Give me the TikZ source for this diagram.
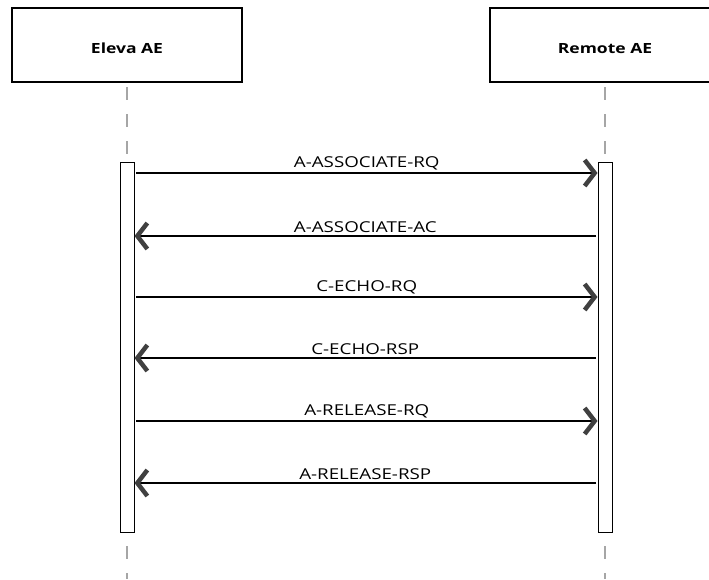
\documentclass[tikz,border=0pt]{standalone}
\usepackage{fontspec}
\setmainfont{Open Sans}[FakeStretch=1.25]
\usetikzlibrary{arrows.meta}

\begin{document}
\begin{tikzpicture}[
  x=1pt, y=-1pt,
  actor/.style={draw, line width=2.8pt, minimum width=230pt, minimum height=74pt, text height=17pt, text depth=0pt, font=\bfseries\fontsize{14}{16}\selectfont},
  bar/.style={draw, line width=1pt, fill=white, minimum width=14pt, minimum height=370pt, inner sep=0pt},
  life/.style={draw=gray!70, line width=2pt, dash pattern=on 13pt off 14pt},
  msg/.style={line width=2.8pt, -{Straight Barb[length=10pt, width=26pt, line width=4.5pt, color=black!75]}},
  lbl/.style={midway, above=-1.5pt, font=\fontsize{15}{17}\selectfont}
]
\clip (0,0) rectangle (709,579);
\fill[white] (0,0) rectangle (709,579);

% actors
\node[actor] (eleva) at (127,45) {Eleva AE};
\node[actor] (remote) at (605,45) {Remote AE};

% lifelines
\coordinate (eleva-end) at (127,579);
\coordinate (remote-end) at (605,579);
\draw[life] ([yshift=-4pt]eleva.south) -- (eleva-end);
\draw[life] ([yshift=-4pt]remote.south) -- (remote-end);

% activation bars
\node[bar] (lbar) at (127,347) {};
\node[bar] (rbar) at (605,347) {};

% messages
\foreach \y/\txt/\dir in {173/A-ASSOCIATE-RQ/r, 236/A-ASSOCIATE-AC/l, 297/C-ECHO-RQ/r,
                          358/C-ECHO-RSP/l, 421/A-RELEASE-RQ/r, 483/A-RELEASE-RSP/l} {
  \coordinate (l\y) at (lbar.east |- 0,\y);
  \coordinate (r\y) at (rbar.west |- 0,\y);
  \if r\dir
    \draw[msg] ([xshift=1.5pt]l\y) -- (r\y) node[lbl] {\txt};
  \else
    \draw[msg] ([xshift=-1.5pt]r\y) -- (l\y) node[lbl] {\txt};
  \fi
}
\end{tikzpicture}
\end{document}
